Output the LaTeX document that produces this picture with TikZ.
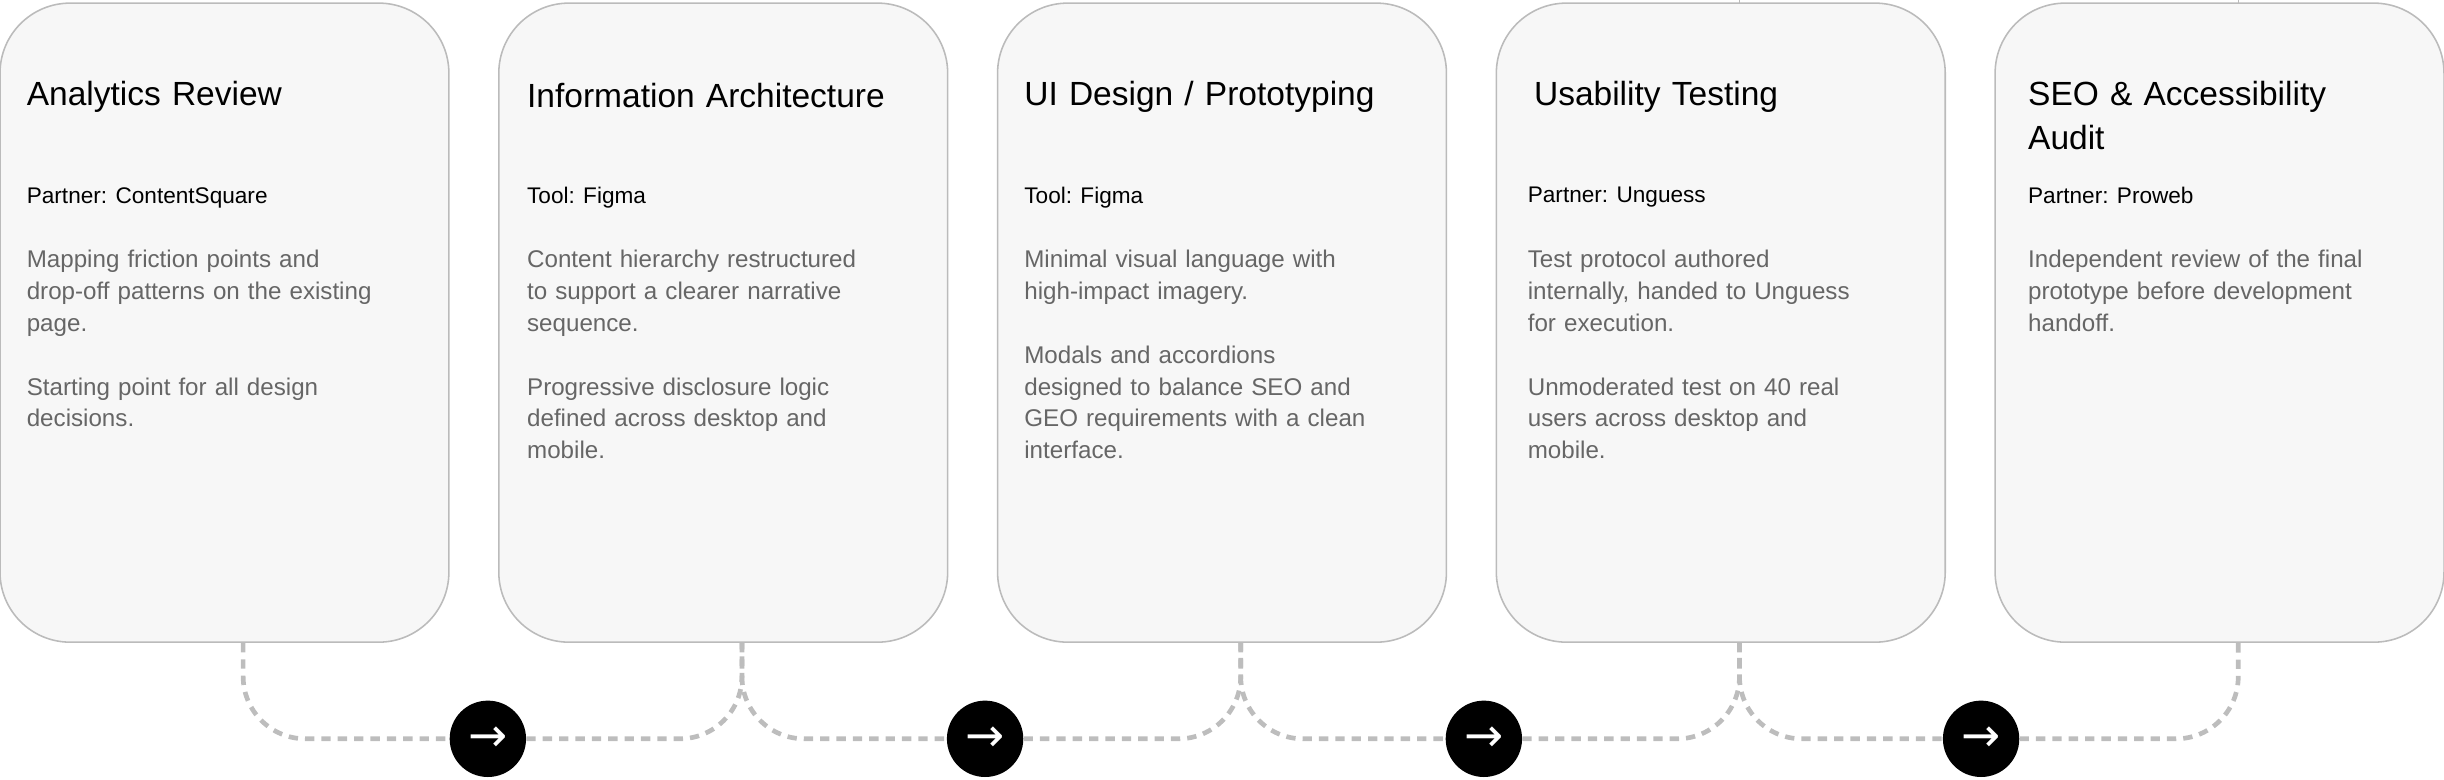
\documentclass[tikz,border=0pt]{standalone}
\usepackage{fontspec}
\setmainfont{Liberation Sans}
\newfontfamily\arrowfont{DejaVu Sans}
\usetikzlibrary{positioning,calc}
\definecolor{cardfill}{HTML}{F7F7F7}
\definecolor{cardline}{HTML}{BBBBBB}
\definecolor{bodygray}{HTML}{666666}
\definecolor{dashgray}{HTML}{BDBDBD}
\tikzset{
  card/.style={draw=cardline,fill=cardfill,line width=1pt,rounded corners=45pt,
    minimum width=288pt,minimum height=410pt,inner sep=0pt},
  title/.style={anchor=north west,inner sep=0pt,align=left,text width=260pt,
    font=\fontsize{21.5}{28}\selectfont},
  role/.style={anchor=north west,inner sep=0pt,font=\fontsize{14.5}{18}\selectfont},
  body/.style={anchor=north west,inner sep=0pt,align=left,text width=250pt,text=bodygray,
    font=\fontsize{15.5}{20.5}\selectfont},
  stepdot/.style={circle,fill=black,minimum size=49pt,inner sep=0pt,text=white,
    font=\arrowfont\fontsize{30}{30}\selectfont},
  link/.style={draw=dashgray,line width=3pt,dash pattern=on 6pt off 4.5pt,rounded corners=40pt}
}
\begin{document}
\begin{tikzpicture}[x=1pt,y=-1pt]
\useasboundingbox (0,0) rectangle (1568,500);
% cards
\node[card] (c1) at (144,207) {};
\node[card] (c2) at (464,207) {};
\node[card] (c3) at (784,207) {};
\node[card] (c4) at (1104,207) {};
\node[card] (c5) at (1424,207) {};
% ticks above last cards
\draw[cardline,line width=1pt] (1116,0) -- (1116,2);
\draw[cardline,line width=1pt] (1436,0) -- (1436,2);
% card 1
\node[title] (t1) at (17,52) {Analytics Review};
\node[role] (r1) at (17,120) {Partner: ContentSquare};
\node[body] (b1) at (17,160) {Mapping friction points and\\drop-off patterns on the existing\\page.\\[20.5pt]Starting point for all design\\decisions.};
% card 2
\node[title] (t2) at (338,53) {Information Architecture};
\node[role] (r2) at (338,120) {Tool: Figma};
\node[body] (b2) at (338,160) {Content hierarchy restructured\\to support a clearer narrative\\sequence.\\[20.5pt]Progressive disclosure logic\\defined across desktop and\\mobile.};
% card 3
\node[title] (t3) at (657,52) {UI Design / Prototyping};
\node[role] (r3) at (657,120) {Tool: Figma};
\node[body] (b3) at (657,160) {Minimal visual language with\\high-impact imagery.\\[20.5pt]Modals and accordions\\designed to balance SEO and\\GEO requirements with a clean\\interface.};
% card 4
\node[title] (t4) at (984,52) {Usability Testing};
\node[role] (r4) at (980,120) {Partner: Unguess};
\node[body] (b4) at (980,160) {Test protocol authored\\internally, handed to Unguess\\for execution.\\[20.5pt]Unmoderated test on 40 real\\users across desktop and\\mobile.};
% card 5
\node[title] (t5) at (1301,52) {SEO \& Accessibility\\Audit};
\node[role] (r5) at (1301,120) {Partner: Proweb};
\node[body] (b5) at (1301,160) {Independent review of the final\\prototype before development\\handoff.};
% connectors
\node[stepdot] (s1) at (313,474) {→};
\node[stepdot] (s2) at (632,474) {→};
\node[stepdot] (s3) at (952,474) {→};
\node[stepdot] (s4) at (1271,474) {→};
\path[link] ([xshift=12pt]c1.south) |- (s1);
\path[link] (s1) -| ([xshift=12pt]c2.south);
\path[link] ([xshift=12pt]c2.south) |- (s2);
\path[link] (s2) -| ([xshift=12pt]c3.south);
\path[link] ([xshift=12pt]c3.south) |- (s3);
\path[link] (s3) -| ([xshift=12pt]c4.south);
\path[link] ([xshift=12pt]c4.south) |- (s4);
\path[link] (s4) -| ([xshift=12pt]c5.south);
\end{tikzpicture}
\end{document}
